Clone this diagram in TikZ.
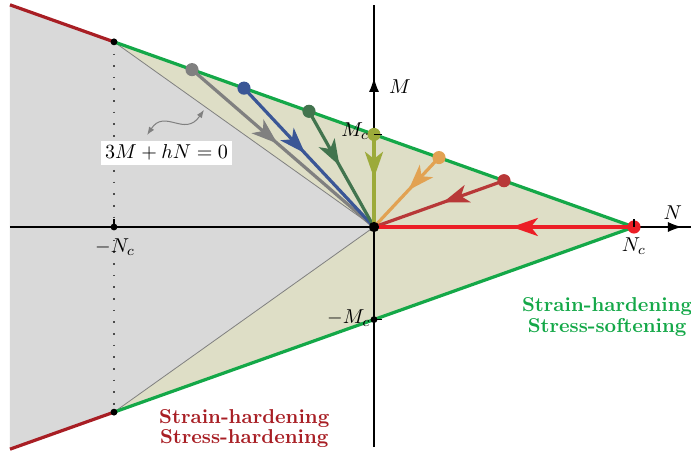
\documentclass[tikz,border=0pt]{standalone}
\usepackage{amsmath}
\usepackage{tikz}
\usetikzlibrary{arrows.meta, positioning, calc, decorations.markings}
\definecolor{zonegray}{RGB}{217, 217, 217}
\definecolor{zonebeige}{RGB}{222, 222, 198}
\definecolor{hardgreen}{RGB}{20, 168, 72}
\definecolor{hardred}{RGB}{168, 30, 36}
\definecolor{pathgray}{RGB}{128, 128, 128}
\definecolor{pathblue}{RGB}{58, 86, 150}
\definecolor{pathgreen}{RGB}{66, 116, 78}
\definecolor{patholive}{RGB}{156, 170, 58}
\definecolor{pathorange}{RGB}{226, 162, 82}
\definecolor{pathbrick}{RGB}{184, 56, 56}
\definecolor{pathred}{RGB}{236, 30, 38}
\tikzset{
    axisline/.style={draw, black, line width=0.7pt},
    bound/.style={line width=1.6pt},
    flow/.style={line width=1.6pt, postaction={decorate}, decoration={markings, mark=at position 0.47 with {\arrow{Stealth[length=13pt, width=9pt, inset=3.5pt]}}}},
    pathdot/.style={circle, inner sep=0pt, minimum size=0.23cm},
    corner/.style={circle, fill=black, inner sep=0pt, minimum size=0.12cm},
    tickmark/.style={line width=0.6pt}
}

\begin{document}
\begin{tikzpicture}
        \useasboundingbox (-6.545,-3.9375) rectangle (5.5475,3.9725);
        % Key points of the yield surface
        \coordinate (O) at (0,0);
        \coordinate (tl) at (-6.37,3.888);
        \coordinate (bl) at (-6.37,-3.888);
        \coordinate (top) at (-4.55,3.24);
        \coordinate (bot) at (-4.55,-3.24);
        \coordinate (Np) at (4.55,0);
        \coordinate (mNp) at (-4.55,0);
        \coordinate (Mp) at (0,1.62);
        \coordinate (mMp) at (0,-1.62);

        % Shaded zones
        \fill[zonegray] (tl) -- (top) -- (O) -- (bot) -- (bl) -- cycle;
        \fill[zonebeige] (top) -- (Np) -- (bot) -- (O) -- cycle;
        \draw[pathgray, line width=0.4pt] (top) -- (O) -- (bot);
        \draw[dash pattern=on 0.8pt off 5pt, line width=0.7pt, black!70] (top) -- (bot);

        % Axes
        \coordinate (xl) at (-6.37,0);
        \coordinate (xr) at (5.55,0);
        \coordinate (xtip) at (5.39,0);
        \coordinate (yb) at (0,-3.85);
        \coordinate (yt) at (0,3.885);
        \coordinate (ytip) at (0,2.61);
        \draw[axisline] (xl) -- (xr);
        \draw[axisline] (yb) -- (yt);
        \draw[axisline, -{Latex[length=7pt, width=5pt]}] (O) -- (xtip);
        \draw[axisline, -{Latex[length=7pt, width=5pt]}] (O) -- (ytip);
        \node (Nlbl) at (5.23,0.26) {$N$};
        \node (Mlbl) at (0.455,2.45) {$M$};

        % Boundaries
        \draw[bound, hardred] (tl) -- (top);
        \draw[bound, hardgreen] (top) -- (Np) -- (bot);
        \draw[bound, hardred] (bot) -- (bl);

        % Loading states on the boundary
        \node[pathdot, fill=pathgray] (s1) at (-3.185,2.754) {};
        \node[pathdot, fill=pathblue] (s2) at (-2.275,2.43) {};
        \node[pathdot, fill=pathgreen] (s3) at (-1.1375,2.025) {};
        \node[pathdot, fill=patholive] (s4) at (Mp) {};
        \node[pathdot, fill=pathorange] (s5) at (1.1375,1.215) {};
        \node[pathdot, fill=pathbrick] (s6) at (2.275,0.81) {};
        \node[pathdot, fill=pathred] (s7) at (Np) {};

        % Paths towards the origin
        \draw[flow, pathgray] (s1.center) -- (O);
        \draw[flow, pathblue] (s2.center) -- (O);
        \draw[flow, pathgreen] (s3.center) -- (O);
        \draw[flow, patholive] (s4.center) -- (O);
        \draw[flow, pathorange] (s5.center) -- (O);
        \draw[flow, pathbrick] (s6.center) -- (O);
        \draw[flow, pathred] (s7.center) -- (O);

        % Black points
        \node[corner, minimum size=0.18cm] (Odot) at (O) {};
        \node[corner] (topdot) at (top) {};
        \node[corner] (botdot) at (bot) {};
        \node[corner] (mNdot) at (mNp) {};
        \node[corner] (mMdot) at (mMp) {};

        % Ticks
        \draw[tickmark] (Np) -- ++(0,0.14);
        \draw[tickmark] (mNp) -- ++(0,0.14);
        \draw[tickmark] (Mp) -- ++(0.14,0);
        \draw[tickmark] (mMp) -- ++(0.14,0);

        % Labels
        \node (Mclbl) at (-0.33,1.68) {$M_c$};
        \node (mMclbl) at (-0.44,-1.59) {$-M_c$};
        \node (Nclbl) at (4.55,-0.33) {$N_c$};
        \node (mNclbl) at (-4.53,-0.35) {$-N_c$};

        % Neutral line
        \node[fill=white, inner sep=2pt] (eqlbl) at (-3.63,1.30) {$3M+hN=0$};
        \coordinate (eqfoot) at (-3.97,1.61);
        \coordinate (eqhead) at (-2.975,2.05);
        \draw[pathgray, line width=0.5pt, {Latex[length=4pt, width=3pt]}-{Latex[length=4pt, width=3pt]}] (eqfoot) .. controls (-3.66,2.08) and (-3.31,1.56) .. (eqhead);

        % Regimes
        \node[align=center, font=\bfseries, text=hardgreen] (softlbl) at (4.08,-1.575) {Strain-hardening\\[-2pt]Stress-softening};
        \node[align=center, font=\bfseries, text=hardred] (hardlbl) at (-2.27,-3.52) {Strain-hardening\\[-2pt]Stress-hardening};
    \end{tikzpicture}
\end{document}
